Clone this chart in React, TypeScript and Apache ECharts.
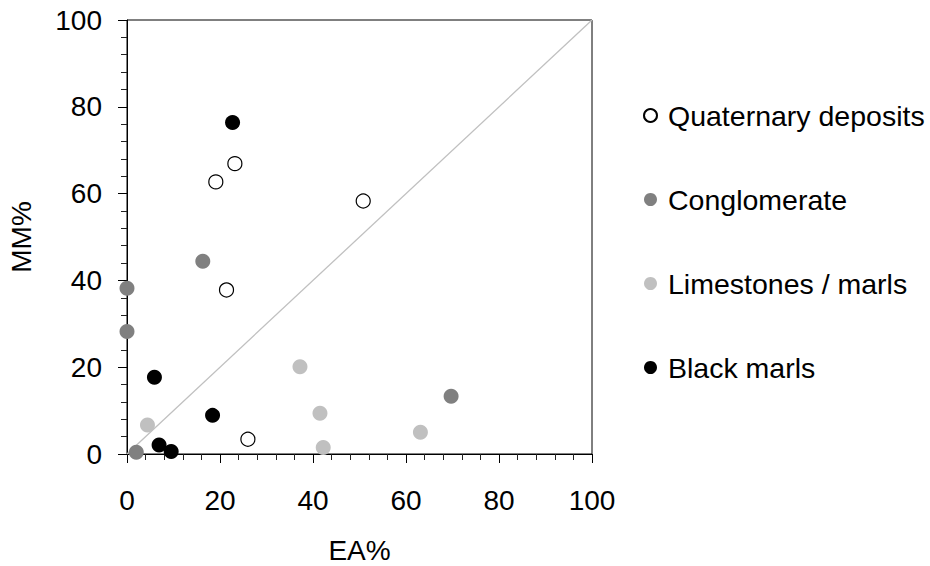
import React, { useEffect, useRef } from "react";
import * as echarts from "echarts";

const seriesNames = ["Quaternary deposits", "Conglomerate", "Limestones / marls", "Black marls"];

const quaternary: number[][] = [
  [23.2, 66.9],
  [19.1, 62.7],
  [50.8, 58.3],
  [21.4, 37.8],
  [26.0, 3.4],
];
const conglomerate: number[][] = [
  [16.3, 44.4],
  [0, 38.2],
  [0, 28.2],
  [2.0, 0.4],
  [69.7, 13.3],
];
const limestones: number[][] = [
  [37.2, 20.1],
  [41.5, 9.4],
  [4.4, 6.7],
  [42.2, 1.5],
  [63.1, 5.0],
];
const blackMarls: number[][] = [
  [22.7, 76.4],
  [5.9, 17.7],
  [18.4, 8.9],
  [6.9, 2.1],
  [9.5, 0.6],
];
const identityLine: number[][] = [
  [0, 0],
  [100, 100],
];

const FONT = "'Liberation Sans', Arial, sans-serif";

export default function App() {
  const ref = useRef<HTMLDivElement>(null);
  useEffect(() => {
    if (!ref.current) return;
    const chart = echarts.init(ref.current, null, { renderer: "svg" });
    const axisCommon = {
      type: "value",
      min: 0,
      max: 100,
      interval: 20,
      splitLine: { show: false },
      axisLine: { show: true, lineStyle: { color: "#000", width: 1 } },
      axisTick: { show: true, length: 9, lineStyle: { color: "#000", width: 1 } },
      minorTick: { show: true, splitNumber: 5, length: 6, lineStyle: { color: "#222", width: 1 } },
      nameTextStyle: { fontFamily: FONT, fontSize: 28, color: "#000" },
    };
    chart.setOption({
      animation: false,
      backgroundColor: "#fff",
      textStyle: { fontFamily: FONT },
      grid: {
        left: 127,
        right: 338,
        top: 20,
        bottom: 112,
        show: true,
        borderColor: "#000",
        borderWidth: 1,
        outerBoundsMode: "none",
        containLabel: false,
      },
      xAxis: {
        ...axisCommon,
        name: "EA%",
        nameLocation: "middle",
        nameGap: 82,
        axisLabel: { fontFamily: FONT, fontSize: 28, color: "#000", margin: 32 },
      },
      yAxis: {
        ...axisCommon,
        name: "MM%",
        nameLocation: "middle",
        nameGap: 92,
        axisLabel: { fontFamily: FONT, fontSize: 28, color: "#000", margin: 25 },
      },
      legend: {
        orient: "vertical",
        left: 643,
        top: 101,
        padding: 0,
        itemWidth: 13,
        itemHeight: 13,
        itemGap: 55,
        icon: "circle",
        data: seriesNames,
        textStyle: { fontFamily: FONT, fontSize: 28.5, color: "#000", lineHeight: 28, padding: [0, 0, 0, 6] },
      },
      series: [
        {
          type: "line",
          data: identityLine,
          symbol: "none",
          lineStyle: { color: "#c0c0c0", width: 1.3 },
          silent: true,
          z: 1,
        },
        {
          name: seriesNames[0],
          type: "scatter",
          data: quaternary,
          symbol: "circle",
          symbolSize: 14,
          itemStyle: { color: "#fff", borderColor: "#000", borderWidth: 1.2, opacity: 1 },
          z: 3,
        },
        {
          name: seriesNames[1],
          type: "scatter",
          data: conglomerate,
          symbol: "circle",
          symbolSize: 15,
          itemStyle: { color: "#808080", opacity: 1 },
          z: 3,
        },
        {
          name: seriesNames[2],
          type: "scatter",
          data: limestones,
          symbol: "circle",
          symbolSize: 15,
          itemStyle: { color: "#c0c0c0", opacity: 1 },
          z: 3,
        },
        {
          name: seriesNames[3],
          type: "scatter",
          data: blackMarls,
          symbol: "circle",
          symbolSize: 15,
          itemStyle: { color: "#000", opacity: 1 },
          z: 3,
        },
      ],
    });
    return () => chart.dispose();
  }, []);
  return <div ref={ref} style={{ width: 930, height: 566, position: "absolute", left: 0, top: 0 }} />;
}
